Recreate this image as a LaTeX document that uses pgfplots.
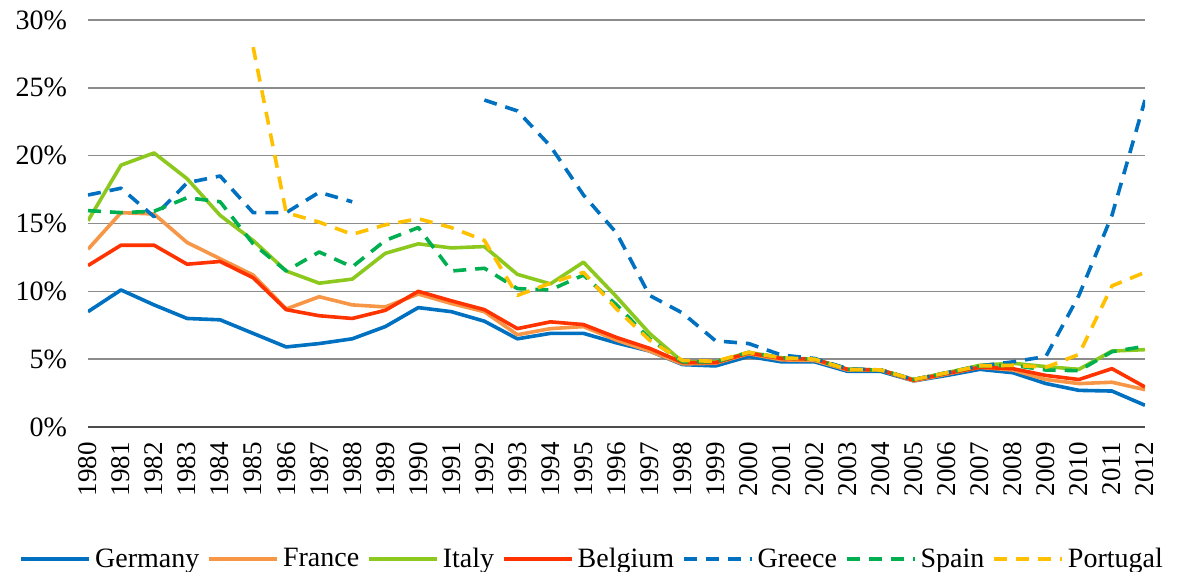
\documentclass[border=0pt]{standalone}
\usepackage{fontspec}
\setmainfont{Liberation Serif}
\usepackage{pgfplots}
\usepackage{pgfplotstable}
\pgfplotsset{compat=1.18}
\definecolor{cGer}{HTML}{0070C0}
\definecolor{cFra}{HTML}{F79646}
\definecolor{cIta}{HTML}{8CC81E}
\definecolor{cBel}{HTML}{FF3300}
\definecolor{cGre}{HTML}{0070C0}
\definecolor{cSpa}{HTML}{00B050}
\definecolor{cPor}{HTML}{FFC000}
\pgfplotstableread{
year Germany France Italy Belgium Greece Spain Portugal
1980 8.5  13.1 15.2 11.9 17.1 15.95 nan
1981 10.1 15.8 19.3 13.4 17.6 15.8 nan
1982 9.0  15.7 20.2 13.4 15.5 15.9 nan
1983 8.0  13.6 18.3 12.0 18.0 16.9 nan
1984 7.9  12.4 15.6 12.2 18.5 16.6 nan
1985 6.9  11.2 13.75 11.0 15.8 13.5 28.0
1986 5.9  8.7  11.5 8.65 15.8 11.5 15.8
1987 6.15 9.6  10.6 8.2  17.3 12.9 15.1
1988 6.5  9.0  10.9 8.0  16.6 11.8 14.2
1989 7.4  8.85 12.8 8.6  nan  13.75 14.9
1990 8.8  9.8  13.5 10.0 nan  14.7 15.35
1991 8.5  9.1  13.2 9.3  nan  11.5 14.7
1992 7.8  8.5  13.3 8.65 24.1 11.7 13.75
1993 6.5  6.8  11.25 7.25 23.3 10.2 9.7
1994 6.9  7.25 10.55 7.75 20.7 10.1 10.6
1995 6.9  7.4  12.15 7.55 17.1 11.2 11.4
1996 6.2  6.4  9.6  6.6  14.3 9.0  8.7
1997 5.6  5.6  6.9  5.8  9.7  6.5  6.4
1998 4.6  4.65 4.8  4.75 8.4  4.8  4.9
1999 4.5  4.7  4.8  4.75 6.35 4.8  4.85
2000 5.2  5.4  5.5  5.45 6.15 5.5  5.5
2001 4.8  4.95 5.1  5.05 5.3  5.1  5.1
2002 4.8  4.9  5.0  5.0  5.05 5.0  5.0
2003 4.1  4.2  4.25 4.25 4.3  4.25 4.25
2004 4.1  4.2  4.2  4.2  4.2  4.2  4.2
2005 3.4  3.4  3.5  3.45 3.5  3.5  3.5
2006 3.8  3.9  4.0  3.95 4.0  4.0  4.0
2007 4.25 4.4  4.55 4.4  4.5  4.5  4.5
2008 4.0  4.2  4.7  4.3  4.8  4.55 4.55
2009 3.2  3.5  4.45 3.8  5.2  4.2  4.4
2010 2.7  3.2  4.25 3.5  9.7  4.15 5.35
2011 2.65 3.3  5.6  4.3  15.6 5.55 10.4
2012 1.6  2.75 5.7  2.95 24.1 5.95 11.4
}\datatable
\begin{document}
\begin{tikzpicture}
\useasboundingbox (-44pt,-72.5pt) rectangle (548pt,213.5pt);
\begin{axis}[
  scale only axis, width=528.5pt, height=203.5pt,
  xmin=1980, xmax=2012, ymin=0, ymax=30,
  xtick={1980,...,2012}, ytick={0,5,...,30},
  yticklabels={0\%,5\%,10\%,15\%,20\%,25\%,30\%},
  /pgf/number format/1000 sep={},
  /pgf/number format/assume math mode=true,
  y tick label style={font=\fontsize{14}{16}\selectfont, xshift=-7pt},
  x tick label style={font=\fontsize{13.5}{16}\selectfont, rotate=90, anchor=east, inner xsep=7.5pt},
  axis line style={draw=none},
  major tick length=0pt,
  ymajorgrids, grid style={black!45, line width=0.8pt},
  extra y ticks={0}, extra y tick labels={},
  extra y tick style={grid style={black!70, line width=1.3pt}},
  unbounded coords=jump,
  every axis plot/.append style={line width=1.8pt, line join=round},
  legend columns=7,
  legend image code/.code={\draw[#1] (0pt,0pt) -- (34pt,0pt);},
  legend style={at={(0.478,-0.325)}, anchor=center, draw=none, fill=none,
    font=\fontsize{14}{16}\selectfont,
    /tikz/every even column/.append style={column sep=2pt}},
]
\addplot[color=cGer] table[x=year,y=Germany] {\datatable};
\addlegendentry{Germany}
\addplot[color=cFra] table[x=year,y=France] {\datatable};
\addlegendentry{France}
\addplot[color=cIta] table[x=year,y=Italy] {\datatable};
\addlegendentry{Italy}
\addplot[color=cBel] table[x=year,y=Belgium] {\datatable};
\addlegendentry{Belgium}
\addplot[color=cGre, dash pattern=on 6.5pt off 4.5pt] table[x=year,y=Greece] {\datatable};
\addlegendentry{Greece}
\addplot[color=cSpa, dash pattern=on 6.5pt off 4.5pt] table[x=year,y=Spain] {\datatable};
\addlegendentry{Spain}
\addplot[color=cPor, dash pattern=on 6.5pt off 4.5pt] table[x=year,y=Portugal] {\datatable};
\addlegendentry{Portugal}
\end{axis}
\end{tikzpicture}
\end{document}
